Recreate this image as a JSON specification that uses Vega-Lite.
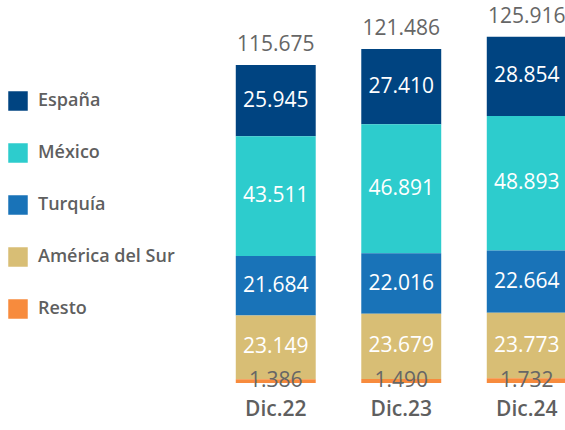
{
  "$schema": "https://vega.github.io/schema/vega-lite/v6.json",
  "width": 376.5,
  "height": 363,
  "autosize": "none",
  "padding": {"left": 213, "top": 20, "right": 0, "bottom": 47},
  "background": "white",
  "config": {"view": {"stroke": null}, "font": "Open Sans"},
  "data": {"values": [
    {"periodo": "Dic.22", "region": "España", "orden": 5, "valor": 25.945},
    {"periodo": "Dic.22", "region": "México", "orden": 4, "valor": 43.511},
    {"periodo": "Dic.22", "region": "Turquía", "orden": 3, "valor": 21.684},
    {"periodo": "Dic.22", "region": "América del Sur", "orden": 2, "valor": 23.149},
    {"periodo": "Dic.22", "region": "Resto", "orden": 1, "valor": 1.386},
    {"periodo": "Dic.23", "region": "España", "orden": 5, "valor": 27.410},
    {"periodo": "Dic.23", "region": "México", "orden": 4, "valor": 46.891},
    {"periodo": "Dic.23", "region": "Turquía", "orden": 3, "valor": 22.016},
    {"periodo": "Dic.23", "region": "América del Sur", "orden": 2, "valor": 23.679},
    {"periodo": "Dic.23", "region": "Resto", "orden": 1, "valor": 1.490},
    {"periodo": "Dic.24", "region": "España", "orden": 5, "valor": 28.854},
    {"periodo": "Dic.24", "region": "México", "orden": 4, "valor": 48.893},
    {"periodo": "Dic.24", "region": "Turquía", "orden": 3, "valor": 22.664},
    {"periodo": "Dic.24", "region": "América del Sur", "orden": 2, "valor": 23.773},
    {"periodo": "Dic.24", "region": "Resto", "orden": 1, "valor": 1.732}
  ]},
  "encoding": {
    "x": {"field": "periodo", "type": "nominal", "sort": null,
      "scale": {"paddingInner": 0.363, "paddingOuter": 0.1815},
      "axis": {"title": null, "domain": false, "ticks": false, "labelAngle": 0,
        "labelFontSize": 21, "labelFontWeight": 600, "labelColor": "#5f5f5f", "labelPadding": 15}}
  },
  "layer": [
    {
      "mark": {"type": "bar"},
      "encoding": {
        "y": {"field": "valor", "type": "quantitative", "stack": "zero",
          "scale": {"domain": [0, 132], "nice": false}, "axis": null},
        "order": {"field": "orden", "type": "quantitative", "sort": "ascending"},
        "color": {"field": "region", "type": "nominal",
          "scale": {"domain": ["España", "México", "Turquía", "América del Sur", "Resto"],
            "range": ["#004481", "#2dcccd", "#1973b8", "#d8be75", "#f78b3d"]},
          "legend": {"title": null, "orient": "none", "legendX": -205, "legendY": 71,
            "symbolType": "square", "symbolSize": 380, "symbolStrokeWidth": 0, "symbolOpacity": 1,
            "labelFontSize": 18, "labelFontWeight": 600, "labelColor": "#5f5f5f",
            "rowPadding": 32, "labelOffset": 10}}
      }
    },
    {
      "transform": [
        {"stack": "valor", "groupby": ["periodo"], "sort": [{"field": "orden", "order": "ascending"}], "as": ["v0", "v1"]},
        {"calculate": "(datum.v0 + datum.v1) / 2", "as": "vmid"}
      ],
      "mark": {"type": "text", "fontSize": 21, "baseline": "middle", "align": "center"},
      "encoding": {
        "y": {"field": "vmid", "type": "quantitative"},
        "text": {"field": "valor", "type": "quantitative", "format": ".3f"},
        "color": {"condition": {"test": "datum.region === 'Resto'", "value": "#666666"}, "value": "white"}
      }
    },
    {
      "transform": [
        {"aggregate": [{"op": "sum", "field": "valor", "as": "total"}], "groupby": ["periodo"]}
      ],
      "mark": {"type": "text", "fontSize": 21, "baseline": "bottom", "align": "center", "dy": -10, "color": "#666666"},
      "encoding": {
        "y": {"field": "total", "type": "quantitative"},
        "text": {"field": "total", "type": "quantitative", "format": ".3f"}
      }
    }
  ]
}
